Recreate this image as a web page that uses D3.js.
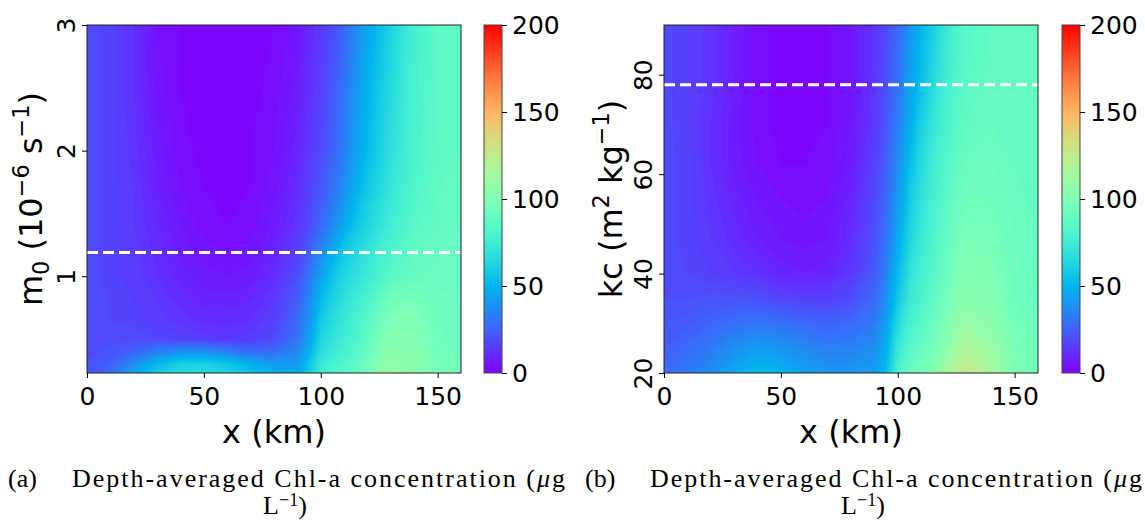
<!DOCTYPE html>
<html><head><meta charset="utf-8">
<script src="https://cdn.jsdelivr.net/npm/d3@7"></script>
<style>body{margin:0;background:#fff} svg{display:block}</style>
</head><body>
<svg id="chart" width="1145" height="520"></svg>
<script>
// ---------------- data ----------------
const xKm = [0,10,20,30,40,50,60,70,80,90,95,100,105,110,115,120,125,130,140,150,160];

// panel (a): m0 (10^-6 s^-1), rows from bottom to top
const m0Values = [0.23,0.3,0.4,0.5,0.65,0.8,1.0,1.2,1.4,1.7,2.0,2.5,3.0];
const chlA = [
 [21,28,44,58,65,66,62,55,48,45,58,74,80,84,89,96,105,110,106,98,95],
 [20,25,38,52,60,61,56,48,42,42,55,72,78,82,87,94,103,108,104,97,94],
 [19,21,26,33,38,38,33,28,28,35,48,66,73,78,84,91,99,105,103,96,93],
 [19,19,19,18,17,15,14,15,19,30,44,62,70,75,81,88,96,102,101,95,92],
 [19,18,17,15,13,11,11,12,16,27,40,57,66,72,78,85,93,99,99,94,92],
 [19,18,16,14,11,9,9,10,14,24,36,52,62,69,75,81,88,95,97,93,92],
 [19,17,15,12,9,7,6,7,11,20,30,44,55,63,69,74,80,85,90,91,91],
 [19,17,15,11,7,5,4,5,9,16,24,36,47,57,64,70,76,81,88,90,91],
 [19,17,14,10,6,3,2,3,7,13,19,27,36,46,56,63,70,76,85,89,90],
 [19,17,14,8,4,2,1,2,5,11,16,22,29,38,48,57,64,71,82,88,89],
 [19,17,13,7,3,1,1,2,4,9,14,19,25,33,43,52,60,68,80,87,88],
 [19,17,12,5,2,1,1,1,3,7,12,16,22,30,40,49,57,65,79,86,88],
 [19,17,12,4,2,1,1,1,2,5,10,14,19,26,36,45,53,62,78,86,88]
];

// panel (b): kc (m2 kg-1), rows from bottom to top
const kcValues = [20,25,30,35,40,47,55,62,70,80,90];
const chlB = [
 [27,32,38,46,52,50,44,40,40,42,52,80,90,96,102,112,122,128,115,100,95],
 [24,27,32,38,42,40,36,33,34,38,48,72,84,90,96,104,113,118,110,98,93],
 [22,23,26,29,31,29,27,25,27,32,43,64,78,85,91,98,106,110,105,96,92],
 [20,20,21,21,20,17,16,16,19,27,38,56,72,80,87,94,101,104,101,94,91],
 [19,18,16,14,12,9,8,9,14,23,34,52,68,77,84,91,98,101,99,93,90],
 [19,17,14,11,8,6,5,6,11,20,30,46,62,73,81,88,95,98,97,92,90],
 [19,17,13,9,6,4,3,4,9,18,27,41,57,69,78,85,91,94,94,91,89],
 [19,17,12,7,4,2,2,3,7,16,24,37,52,65,75,82,88,91,92,90,89],
 [19,16,12,7,3,1,1,2,6,14,22,33,47,60,71,79,85,88,90,89,88],
 [19,16,13,8,3,1,1,2,6,13,20,29,42,53,64,74,82,86,89,88,88],
 [19,16,13,8,3,1,1,2,6,13,19,27,39,50,60,71,80,85,88,88,88]
];

const xTicks = [0,50,100,150];
const m0Ticks = [1,2,3];
const kcTicks = [20,40,60,80];
const cbTicks = [0,50,100,150,200];
const m0Dashed = 1.19;
const kcDashed = 78;
const xLabel = "x (km)";
const captionA = "(a)";
const captionB = "(b)";
const captionMain = "Depth-averaged Chl-a concentration (";

// ---------------- drawing ----------------
const svg = d3.select("#chart");
const TICKFONT = "'DejaVu Sans', sans-serif";

function rainbow(t){
  t = Math.max(0, Math.min(1, t));
  const r = Math.min(1, Math.abs(2*t - 0.5)), g = Math.sin(Math.PI*t), b = Math.cos(Math.PI*t/2);
  return d3.rgb(r*255, g*255, b*255).toString();
}
const color = d3.scaleSequential(rainbow).domain([0,200]);

function richText(sel, parts, size, supRaise){
  const raise = supRaise || 0.42;
  let shift = 0;
  parts.forEach(p => {
    const target = p.sup ? -raise*size : (p.sub ? 0.22*size : 0);
    const ts = sel.append("tspan").text(p.t).attr("dy", target - shift);
    if (p.sup || p.sub) ts.attr("font-size", size*0.7);
    shift = target;
  });
}

function panel(cfg){
  const {id,left,right,top,bottom,yDomain,yVals,grid,yTicks,dashY,cbLeft,cbRight,ylabelX,ylabelParts} = cfg;
  const x = d3.scaleLinear().domain([0,160]).range([left,right]);
  const y = d3.scaleLinear().domain(yDomain).range([bottom,top]);
  const nx = xKm.length, ny = yVals.length;
  const values = grid.flat();
  const gx = d3.scaleLinear().domain(d3.range(nx).map(i=>i+0.5)).range(xKm).clamp(true);
  const gy = d3.scaleLinear().domain(d3.range(ny).map(j=>j+0.5)).range(yVals).clamp(true);
  const thresholds = d3.range(0, 200, 2);
  const contours = d3.contours().size([nx,ny]).thresholds(thresholds)(values);
  const path = d3.geoPath(d3.geoTransform({point(px,py){ this.stream.point(x(gx(px)), y(gy(py))); }}));

  svg.append("clipPath").attr("id","clip"+id)
    .append("rect").attr("x",left).attr("y",top).attr("width",right-left).attr("height",bottom-top);
  const g = svg.append("g").attr("clip-path","url(#clip"+id+")");
  g.selectAll("path").data(contours).join("path")
    .attr("d", path)
    .attr("fill", d => color(d.value + 1))
    .attr("stroke", d => color(d.value + 1))
    .attr("stroke-width", 0.6);

  // dashed line
  svg.append("line").attr("x1",x(0)).attr("x2",x(160)).attr("y1",y(dashY)).attr("y2",y(dashY))
    .attr("stroke","#fff").attr("stroke-width",3).attr("stroke-dasharray","11,5");

  // frame
  svg.append("rect").attr("x",left).attr("y",top).attr("width",right-left).attr("height",bottom-top)
    .attr("fill","none").attr("stroke","#222").attr("stroke-width",1);

  // x axis
  const xa = svg.append("g").attr("transform",`translate(0,${bottom})`)
    .call(d3.axisBottom(x).tickValues(xTicks).tickSize(5).tickSizeOuter(0).tickPadding(9).tickFormat(d3.format("d")));
  xa.select(".domain").remove();
  xa.selectAll("line").attr("stroke","#000");
  xa.selectAll("text").attr("font-size",25).attr("font-family",TICKFONT).attr("fill","#000");

  // y axis with rotated labels
  const ya = svg.append("g").attr("transform",`translate(${left},0)`)
    .call(d3.axisLeft(y).tickValues(yTicks).tickSize(5).tickSizeOuter(0).tickFormat(d3.format("d")));
  ya.select(".domain").remove();
  ya.selectAll("line").attr("stroke","#000");
  ya.selectAll("text").attr("x",0).attr("dy",null).attr("y",0)
    .attr("transform","translate(-12,0) rotate(-90)")
    .attr("text-anchor","middle").attr("font-size",25).attr("font-family",TICKFONT).attr("fill","#000");

  // x label
  svg.append("text").attr("x",(left+right)/2).attr("y",443).attr("text-anchor","middle")
    .attr("font-size",32).attr("font-family",TICKFONT).text(xLabel);

  // y label
  const yl = svg.append("text").attr("transform",`translate(${ylabelX},${(top+bottom)/2}) rotate(-90)`)
    .attr("text-anchor","middle").attr("font-size",32).attr("font-family",TICKFONT);
  richText(yl, ylabelParts, 32);

  // colorbar
  const cs = d3.scaleLinear().domain([0,200]).range([bottom,top]);
  const grad = svg.append("defs").append("linearGradient").attr("id","grad"+id)
    .attr("x1",0).attr("y1",1).attr("x2",0).attr("y2",0);
  d3.range(0,201,5).forEach(v => grad.append("stop").attr("offset",v/200).attr("stop-color",color(v)));
  svg.append("rect").attr("x",cbLeft).attr("y",top).attr("width",cbRight-cbLeft).attr("height",bottom-top)
    .attr("fill",`url(#grad${id})`).attr("stroke","#444").attr("stroke-width",1);
  const ca = svg.append("g").attr("transform",`translate(${cbRight},0)`)
    .call(d3.axisRight(cs).tickValues(cbTicks).tickSize(5).tickSizeOuter(0).tickPadding(5).tickFormat(d3.format("d")));
  ca.select(".domain").remove();
  ca.selectAll("line").attr("stroke","#000");
  ca.selectAll("text").attr("font-size",25).attr("font-family",TICKFONT).attr("fill","#000");
}

panel({id:"a", left:87, right:461, top:25, bottom:373, yDomain:[0.23,3], yVals:m0Values, grid:chlA,
  yTicks:m0Ticks, dashY:m0Dashed, cbLeft:484, cbRight:502, ylabelX:42,
  ylabelParts:[{t:"m"},{t:"0",sub:true},{t:" (10"},{t:"\u22126",sup:true},{t:" s"},{t:"\u22121",sup:true},{t:")"}]});
panel({id:"b", left:664, right:1038, top:25, bottom:373, yDomain:[20,90], yVals:kcValues, grid:chlB,
  yTicks:kcTicks, dashY:kcDashed, cbLeft:1062, cbRight:1080, ylabelX:622,
  ylabelParts:[{t:"kc (m"},{t:"2",sup:true},{t:" kg"},{t:"\u22121",sup:true},{t:")"}]});

// captions
const CAPFONT = "'Liberation Serif', 'Times New Roman', serif";
const CAPSIZE = 26;
function caption(label, labelX, mainX, targetW, line2Center){
  const t = svg.append("text").attr("x",mainX).attr("y",487).attr("font-family",CAPFONT).attr("font-size",CAPSIZE);
  t.append("tspan").text(captionMain);
  t.append("tspan").attr("font-style","italic").text("\u03bc");
  t.append("tspan").text("g");
  const len = t.node().getComputedTextLength();
  const nChars = captionMain.length + 2;
  t.attr("letter-spacing", (targetW - len) / (nChars - 1));
  svg.append("text").attr("x",labelX).attr("y",487).attr("font-family",CAPFONT).attr("font-size",CAPSIZE)
    .text(label);
  const l2 = svg.append("text").attr("x",line2Center).attr("y",514).attr("text-anchor","middle")
    .attr("font-family",CAPFONT).attr("font-size",CAPSIZE);
  richText(l2, [{t:"L"},{t:"\u22121",sup:true},{t:")"}], CAPSIZE, 0.3);
}
caption(captionA, 8, 72, 493, 285);
caption(captionB, 585, 650, 492, 863);
</script>
</body></html>
